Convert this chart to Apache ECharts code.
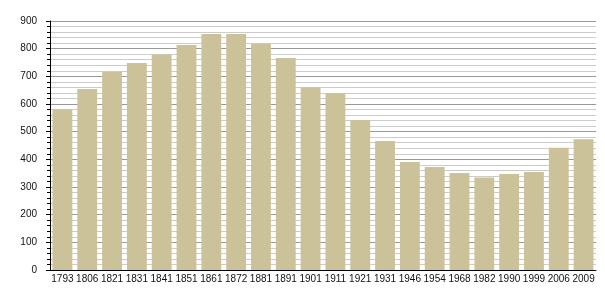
<!DOCTYPE html>
<html><head><meta charset="utf-8">
<script src="https://cdn.jsdelivr.net/npm/echarts@6/dist/echarts.min.js"></script>
<style>html,body{margin:0;padding:0;background:#fff}#c{width:605px;height:300px}</style>
</head><body><div id="c"></div>
<script>
const years = ['1793','1806','1821','1831','1841','1851','1861','1872','1881','1891','1901','1911','1921','1931','1946','1954','1968','1982','1990','1999','2006','2009'];
const population = [581,654,717,748,779,813,853,853,818,766,660,639,542,466,390,372,351,334,347,354,442,473];
const yTicks = {min:0, max:900, interval:100};

const chart = echarts.init(document.getElementById('c'), null, {renderer:'canvas'});
chart.setOption({
  animation:false,
  grid:{left:50, right:9, top:21, bottom:30, containLabel:false},
  xAxis:{
    type:'category', data:years,
    axisLine:{lineStyle:{color:'#000', width:1}},
    axisTick:{show:false},
    axisLabel:{color:'#111', fontFamily:'Liberation Sans, Arial, sans-serif', fontSize:10, margin:4, interval:0}
  },
  yAxis:{
    type:'value', min:yTicks.min, max:yTicks.max, interval:yTicks.interval,
    axisLine:{show:true, lineStyle:{color:'#000', width:1}},
    axisTick:{show:true, length:4, lineStyle:{color:'#000'}},
    minorTick:{show:true, splitNumber:5, length:3, lineStyle:{color:'#000'}},
    splitLine:{show:true, lineStyle:{color:'#999', width:1}},
    minorSplitLine:{show:true, lineStyle:{color:'#ccc', width:1}},
    axisLabel:{color:'#111', fontFamily:'Liberation Sans, Arial, sans-serif', fontSize:10, margin:13}
  },
  series:[{
    type:'bar', data:population, barCategoryGap:'20%',
    itemStyle:{color:'#ccc29a'}
  }]
});
</script></body></html>
